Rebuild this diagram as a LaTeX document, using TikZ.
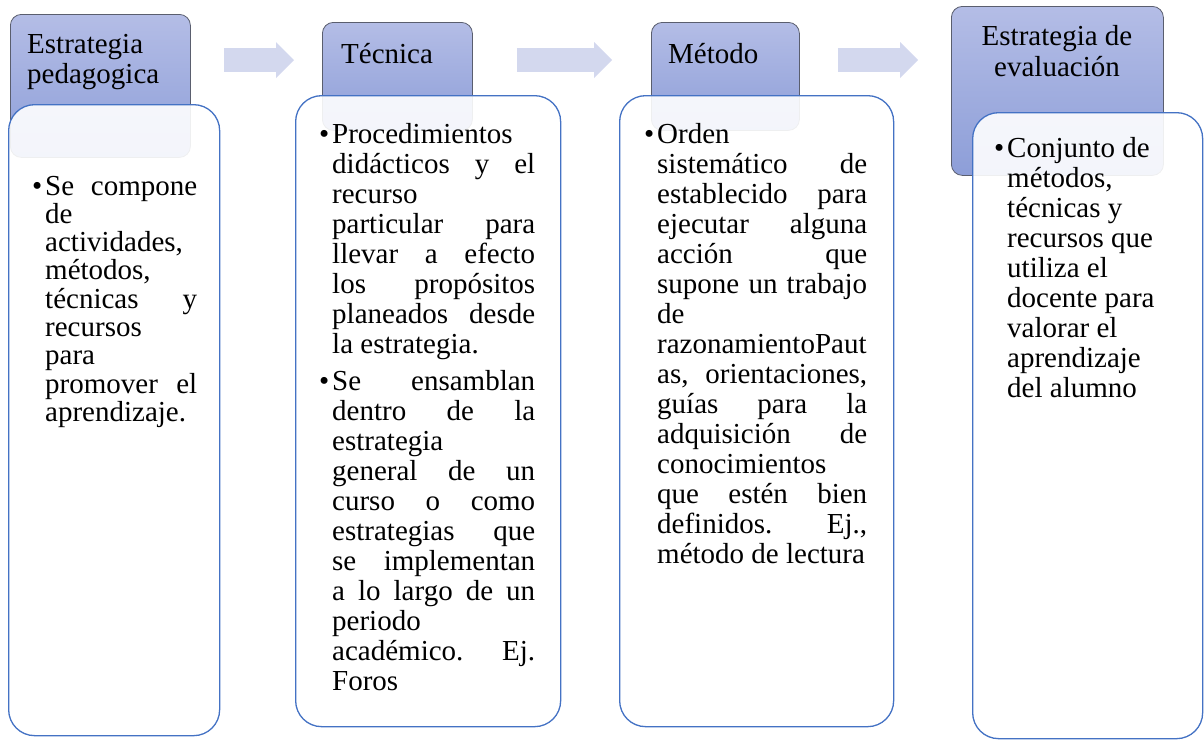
\documentclass[tikz,border=0pt]{standalone}
\usepackage{fontspec}
\setmainfont{Liberation Serif}
\usepackage{xcolor}
\usetikzlibrary{arrows.meta, positioning}

\definecolor{hdtop}{RGB}{180,189,230}
\definecolor{hdbot}{RGB}{141,158,216}
\definecolor{hdline}{RGB}{90,94,110}
\definecolor{bxline}{RGB}{68,114,196}
\definecolor{arrowfill}{RGB}{211,216,238}

\newcommand{\txtsize}{\fontsize{29}{30}\selectfont}
\newcommand{\bul}{\leavevmode\llap{•\hspace{3pt}}}

\tikzset{
  header/.style={draw=hdline, line width=0.8pt, rounded corners=11pt, top color=hdtop, bottom color=hdbot, anchor=north west, inner sep=0pt},
  bodybox/.style={draw=bxline, line width=1.3pt, rounded corners=26pt, fill=white, fill opacity=0.9, anchor=north west, inner sep=0pt},
  hdtext/.style={anchor=base west, inner sep=0pt, font=\txtsize},
  flowarrow/.style={draw=arrowfill, line width=24pt, -{Triangle[length=18pt, width=36pt, line width=0pt]}}
}

\begin{document}
\begin{tikzpicture}[x=1pt, y=-1pt]
		\useasboundingbox (0,0) rectangle (1204,740);
		% Headers
		\node[header, minimum width=180pt, minimum height=143pt] (hd1) at (10,14) {};
		\node[header, minimum width=150pt, minimum height=108pt] (hd2) at (322,22) {};
		\node[header, minimum width=148pt, minimum height=108pt] (hd3) at (651,22) {};
		\node[header, minimum width=212pt, minimum height=169pt] (hd4) at (951,6) {};

		\node[hdtext] (ht1) at (27,53) {\parbox[t]{160pt}{\raggedright Estrategia\\pedagogica}};
		\node[hdtext] (ht2) at (341,63) {Técnica};
		\node[hdtext] (ht3) at (668,63) {Método};
		\node[hdtext, anchor=base] (ht4) at (1057,45) {\parbox[t]{200pt}{\centering Estrategia de\\[1pt]evaluación}};

		% Arrows between headers
		\coordinate (row) at (0,60);
		\draw[flowarrow, shorten <=33pt, shorten >=28pt] (hd1.east |- row) -- (hd2.west |- row);
		\draw[flowarrow, shorten <=44pt, shorten >=39pt] (hd2.east |- row) -- (hd3.west |- row);
		\draw[flowarrow, shorten <=38pt, shorten >=33pt] (hd3.east |- row) -- (hd4.west |- row);

		% Bodies
		\node[bodybox, minimum width=211pt, minimum height=631pt] (bx1) at (8,104) {};
		\node[bodybox, minimum width=265pt, minimum height=631pt] (bx2) at (295,95) {};
		\node[bodybox, minimum width=274pt, minimum height=631pt] (bx3) at (619,95) {};
		\node[bodybox, minimum width=230pt, minimum height=626pt] (bx4) at (972,112) {};

		\node[hdtext] (bt1) at (45,195) {\fontsize{29}{28.3}\selectfont\parbox[t]{152pt}{\raggedright
			\bul Se\hfill compone\\
			de\\
			actividades,\\
			métodos,\\
			técnicas\hfill y\\
			recursos\\
			para\\
			promover\hfill el\\
			aprendizaje.}};
		\node[hdtext] (bt2) at (332,143) {\parbox[t]{203pt}{\raggedright
			\bul Procedimientos\\
			didácticos\hfill y\hfill el\\
			recurso\\
			particular\hfill para\\
			llevar\hfill a\hfill efecto\\
			los\hfill propósitos\\
			planeados\hfill desde\\
			la estrategia.\\[7pt]
			\bul Se\hfill ensamblan\\
			dentro\hfill de\hfill la\\
			estrategia\\
			general\hfill de\hfill un\\
			curso\hfill o\hfill como\\
			estrategias\hfill que\\
			se\hfill implementan\\
			a\hfill lo\hfill largo\hfill de\hfill un\\
			periodo\\
			académico.\hfill Ej.\\
			Foros}};
		\node[hdtext] (bt3) at (657,143) {\parbox[t]{210pt}{\raggedright
			\bul Orden\\
			sistemático\hfill de\\
			establecido\hfill para\\
			ejecutar\hfill alguna\\
			acción\hfill que\\
			supone\hfill un\hfill trabajo\\
			de\\
			razonamientoPaut\\
			as,\hfill orientaciones,\\
			guías\hfill para\hfill la\\
			adquisición\hfill de\\
			conocimientos\\
			que\hfill estén\hfill bien\\
			definidos.\hfill Ej.,\\
			método de lectura}};
		\node[hdtext] (bt4) at (1007,157) {\parbox[t]{185pt}{\raggedright
			\bul Conjunto de\\
			métodos,\\
			técnicas y\\
			recursos que\\
			utiliza el\\
			docente para\\
			valorar el\\
			aprendizaje\\
			del alumno}};
	\end{tikzpicture}
\end{document}
